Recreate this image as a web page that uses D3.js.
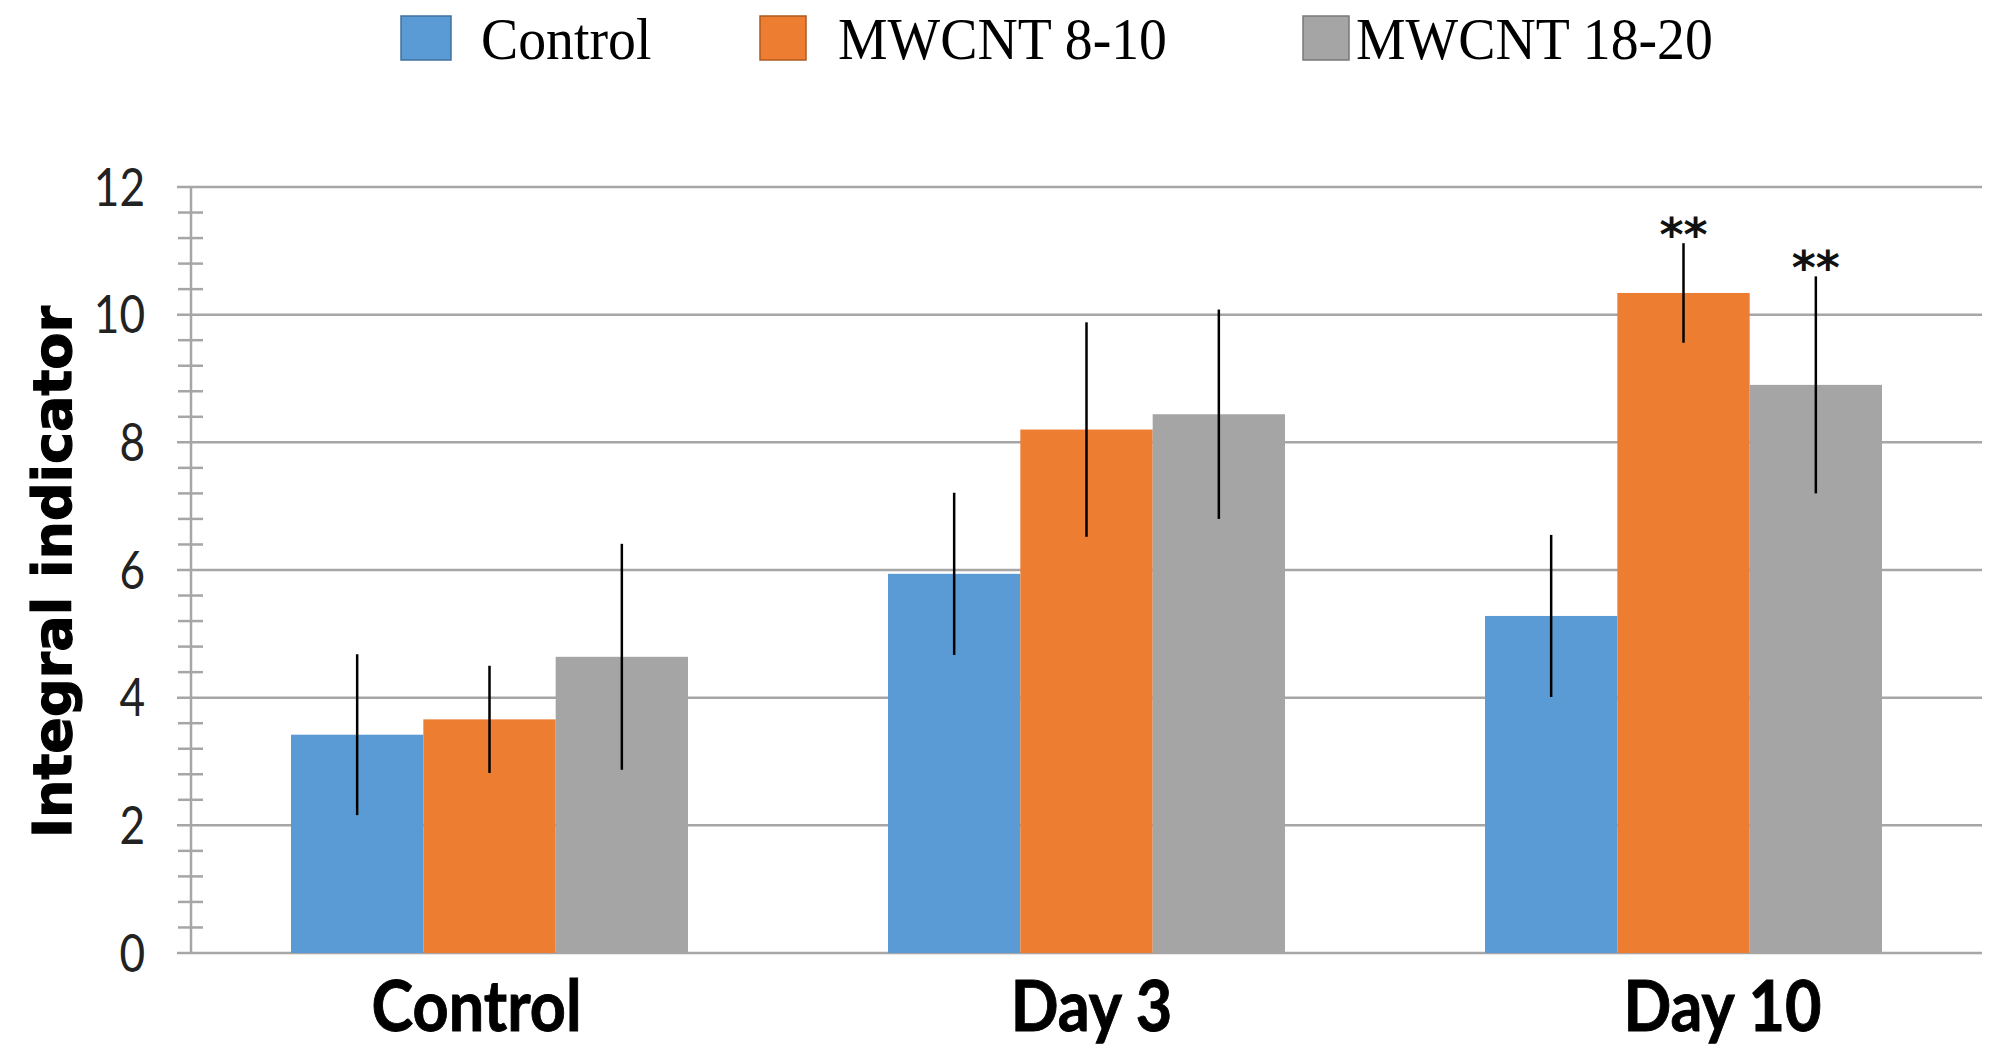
<!DOCTYPE html>
<html>
<head>
<meta charset="utf-8">
<script src="https://cdn.jsdelivr.net/npm/d3@7"></script>
<style>
  html, body { margin: 0; padding: 0; background: #fff; }
  svg { display: block; }
</style>
</head>
<body>
<div id="canvas"></div>
<script>
// data
var groups = ['Control', 'Day 3', 'Day 10'];
var series = ['Control', 'MWCNT 8-10', 'MWCNT 18-20'];
var controlMean = [3.42, 5.94, 5.28];
var controlErr  = [1.26, 1.27, 1.27];
var mw810Mean   = [3.66, 8.20, 10.34];
var mw810Err    = [0.84, 1.68, 0.78];
var mw1820Mean  = [4.64, 8.44, 8.90];
var mw1820Err   = [1.77, 1.64, 1.70];
var stars       = [['', '', ''], ['', '', '**'], ['', '', '**']];
var yTicks = [0, 2, 4, 6, 8, 10, 12];

var colors = ['#5b9bd5', '#ed7d31', '#a5a5a5'];
var borders = ['#41719c', '#ae5a21', '#787878'];

var W = 2008, H = 1056;
var m = {t: 187, r: 26, b: 103, l: 191};

var svg = d3.select('#canvas').append('svg')
    .attr('width', W).attr('height', H);

var y = d3.scaleLinear().domain([0, 12]).range([H - m.b, m.t]);
var x = d3.scaleBand().domain(groups)
    .range([m.l, W - m.r])
    .paddingInner(0.335).paddingOuter(0.1675);
var xs = d3.scaleBand().domain(d3.range(3)).range([0, x.bandwidth()]);

var means = [controlMean, mw810Mean, mw1820Mean];
var errs = [controlErr, mw810Err, mw1820Err];

var rows = [];
groups.forEach(function(g, gi) {
  series.forEach(function(s, si) {
    rows.push({g: g, si: si, v: means[si][gi], e: errs[si][gi], star: stars[si][gi]});
  });
});

// gridlines
svg.append('g').selectAll('line')
    .data(yTicks).enter().append('line')
    .attr('x1', m.l - 14).attr('x2', W - m.r)
    .attr('y1', d => y(d)).attr('y2', d => y(d))
    .style('stroke', '#a6a6a6').style('stroke-width', 2.5);

// minor ticks every 0.4
var minor = d3.range(0, 12.01, 0.4).filter(d => Math.abs(d / 2 - Math.round(d / 2)) > 0.01);
svg.append('g').selectAll('line')
    .data(minor).enter().append('line')
    .attr('x1', m.l - 13).attr('x2', m.l + 12)
    .attr('y1', d => y(d)).attr('y2', d => y(d))
    .style('stroke', '#a6a6a6').style('stroke-width', 2.5);

svg.append('line')
    .attr('x1', m.l).attr('x2', m.l)
    .attr('y1', y(12)).attr('y2', y(0))
    .style('stroke', '#a6a6a6').style('stroke-width', 2.5);

// y tick labels
svg.append('g').selectAll('text')
    .data(yTicks).enter().append('text')
    .attr('transform', d => 'translate(145,' + y(d) + ') scale(0.92,1.08)')
    .attr('dy', '0.36em')
    .attr('text-anchor', 'end')
    .style('font-family', "Lato, sans-serif")
    .style('font-size', '48px')
    .style('fill', '#222')
    .text(d => d);

// bars
svg.append('g').selectAll('rect')
    .data(rows).enter().append('rect')
    .attr('x', d => x(d.g) + xs(d.si))
    .attr('width', xs.bandwidth())
    .attr('y', d => y(d.v))
    .attr('height', d => y(0) - y(d.v))
    .style('fill', d => colors[d.si]);

// error bars (no caps)
svg.append('g').selectAll('line')
    .data(rows).enter().append('line')
    .attr('x1', d => x(d.g) + xs(d.si) + xs.bandwidth() / 2)
    .attr('x2', d => x(d.g) + xs(d.si) + xs.bandwidth() / 2)
    .attr('y1', d => y(d.v + d.e))
    .attr('y2', d => y(d.v - d.e))
    .style('stroke', '#000').style('stroke-width', 2.5);

// significance marks
svg.append('g').selectAll('text')
    .data(rows.filter(d => d.star)).enter().append('text')
    .attr('x', d => x(d.g) + xs(d.si) + xs.bandwidth() / 2)
    .attr('y', d => y(d.v + d.e) + 8)
    .attr('text-anchor', 'middle')
    .style('font-family', "'DejaVu Sans', sans-serif")
    .style('font-weight', 'bold')
    .style('font-size', '46px')
    .style('fill', '#111')
    .text(d => d.star);

// x labels
var labelNudge = [-13, 5, 39];
svg.append('g').selectAll('text')
    .data(groups).enter().append('text')
    .attr('transform', (d, i) => 'translate(' + (x(d) + x.bandwidth() / 2 + labelNudge[i]) + ',1031) scale(1,1.12)')
    .attr('text-anchor', 'middle')
    .style('font-family', "Lato, sans-serif")
    .style('font-weight', 'bold')
    .style('font-size', '63px')
    .style('fill', '#000')
    .style('stroke', '#000').style('stroke-width', 0.8)
    .text(d => d);

// y title
svg.append('text')
    .attr('transform', 'translate(71,572) rotate(-90)')
    .attr('text-anchor', 'middle')
    .style('font-family', "'DejaVu Sans', Verdana, sans-serif")
    .style('font-weight', 'bold')
    .style('font-size', '54px')
    .style('fill', '#000')
    .style('stroke', '#000').style('stroke-width', 1.2)
    .text('Integral indicator');

// legend
var legendX = [401, 760, 1303];
var legendTextX = [481, 838, 1356];
var legend = svg.append('g').selectAll('g')
    .data(series).enter().append('g');
legend.append('rect')
    .attr('x', (d, i) => legendX[i])
    .attr('y', 16)
    .attr('width', (d, i) => i === 0 ? 50 : 46).attr('height', 44)
    .style('fill', (d, i) => colors[i])
    .style('stroke', (d, i) => borders[i]).style('stroke-width', 1.5);
legend.append('text')
    .attr('transform', (d, i) => 'translate(' + legendTextX[i] + ',59) scale(0.93,1)')
    .style('font-family', "'Liberation Serif', 'Times New Roman', serif")
    .style('font-size', '60px')
    .style('fill', '#000')
    .text(d => d);
</script>
</body>
</html>
